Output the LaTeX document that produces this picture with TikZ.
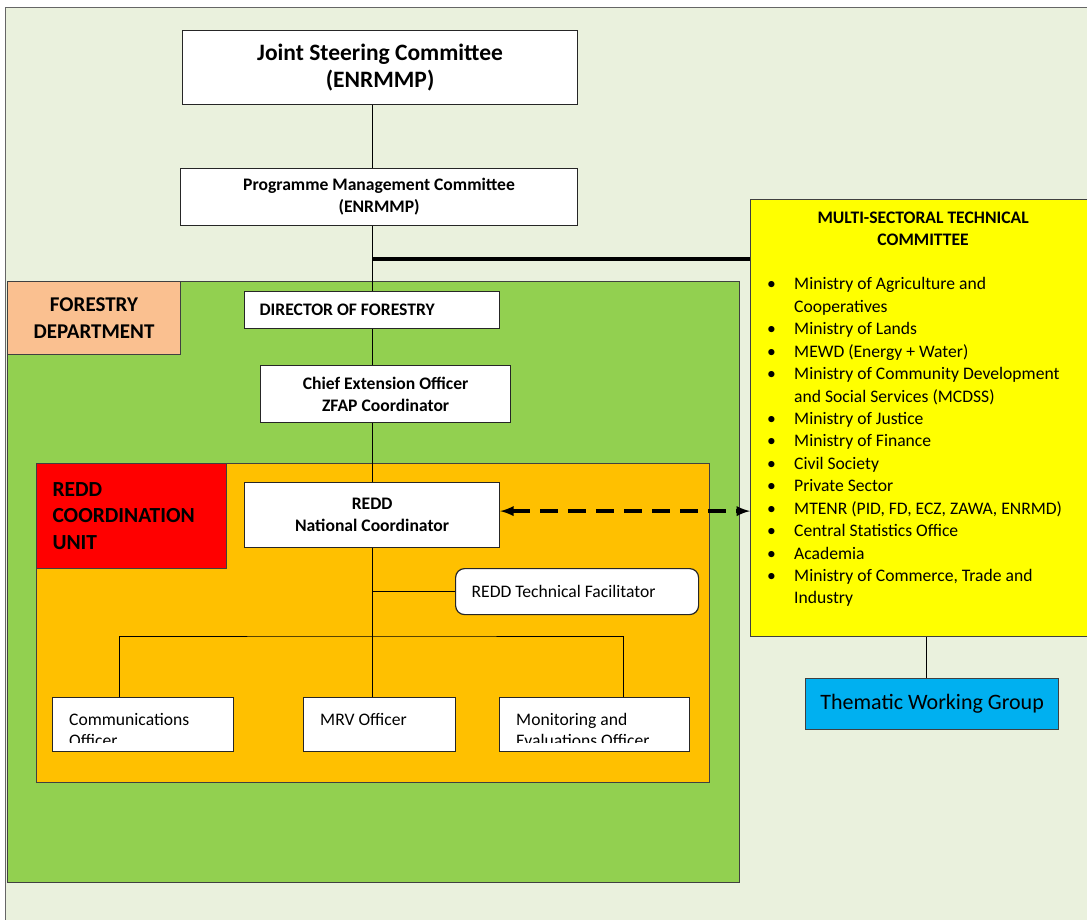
\documentclass[tikz,border=0pt]{standalone}
\usepackage{fontspec}
\setmainfont{Carlito}
\usetikzlibrary{positioning}
\definecolor{bgc}{HTML}{EAF1DD}
\definecolor{fgreen}{HTML}{92D050}
\definecolor{peach}{HTML}{FAC090}
\definecolor{orng}{HTML}{FFC000}
\definecolor{yel}{HTML}{FFFF00}
\definecolor{tblue}{HTML}{00B0F0}
\begin{document}
\begin{tikzpicture}[x=1pt,y=-1pt,>=latex,
  box/.style={draw=black!85,line width=1.2pt,fill=white,anchor=north west,inner sep=0pt,
    align=center,font=\fontsize{17.6}{22}\selectfont\bfseries},
  area/.style={draw=black!75,line width=1pt,anchor=north west,inner sep=0pt},
  link/.style={line width=1pt},
  cut/.style={path picture={
    \clip (path picture bounding box.north west) rectangle ([yshift=9pt]path picture bounding box.south east);
    \node[anchor=north west,inner sep=0pt,minimum width=0pt,minimum height=0pt,draw=none,fill=none,
      align=flush left,font=\fontsize{17.6}{21}\selectfont]
      at ([xshift=16pt,yshift=-15pt]path picture bounding box.north west) {#1};}}]

\clip (0,0) rectangle (1087,920);
\fill[bgc] (5,7) rectangle (1100,930);
\draw[black!60] (5,930) -- (5,7) -- (1100,7);

% forestry department
\node[area,fill=fgreen,minimum width=732,minimum height=601] (fd) at (7,281) {};
\node[area,fill=peach,minimum width=173,minimum height=73,align=center,
  font=\fontsize{21}{27}\selectfont\bfseries] (fdl) at (7,281) {FORESTRY\\DEPARTMENT};

% redd coordination unit
\node[area,fill=orng,minimum width=673,minimum height=319] (rcu) at (36,463) {};
\node[area,fill=red,minimum width=190,minimum height=105,text width=158,inner xsep=16,align=flush left,
  font=\fontsize{21.5}{26.5}\selectfont\bfseries] (rcul) at (36,463) {REDD\\COORDINATION\\UNIT};

\node[box,minimum width=395,minimum height=74,font=\fontsize{23.5}{27}\selectfont\bfseries] (jsc) at (182,30)
  {Joint Steering Committee\\(ENRMMP)};
\node[box,minimum width=397,minimum height=57] (pmc) at (180,168) {Programme Management Committee\\(ENRMMP)};
\node[box,minimum width=255,minimum height=37,align=flush left,text width=225,inner xsep=15] (dof) at (244,291)
  {DIRECTOR OF FORESTRY};
\node[box,minimum width=250,minimum height=57] (ceo) at (260,365) {Chief Extension Officer\\ZFAP Coordinator};
\node[box,minimum width=255,minimum height=65] (nc) at (244,482) {REDD\\National Coordinator};
\node[box,minimum width=243,minimum height=46,align=flush left,text width=211,inner xsep=16,rounded corners=9pt,
  font=\fontsize{17.6}{21}\selectfont] (rtf) at (455,568) {REDD Technical Facilitator};

\node[box,minimum width=181,minimum height=54,cut={Communications\\Officer}] (comm) at (52,697) {};
\node[box,minimum width=152,minimum height=54,cut={MRV Officer}] (mrv) at (303,697) {};
\node[box,minimum width=190,minimum height=54,cut={Monitoring and\\Evaluations Officer}] (me) at (499,697) {};

% technical committee
\node[area,fill=yel,minimum width=345,minimum height=437,line width=1.2pt] (mstc) at (750,199) {};
\node[anchor=north,inner sep=0pt,align=center,font=\fontsize{17.6}{22}\selectfont\bfseries] (mstct)
  at ([yshift=-13pt]mstc.north) {MULTI-SECTORAL TECHNICAL\\COMMITTEE};
\node[anchor=north west,inner sep=0pt,font=\fontsize{17.6}{22.43}\selectfont] (mstcl)
  at ([xshift=17pt,yshift=-75pt]mstc.north west) {\begin{tabular}{@{}p{27pt}@{}l@{}}
  \textbullet & Ministry of Agriculture and\\
              & Cooperatives\\
  \textbullet & Ministry of Lands\\
  \textbullet & MEWD (Energy + Water)\\
  \textbullet & Ministry of Community Development\\
              & and Social Services (MCDSS)\\
  \textbullet & Ministry of Justice\\
  \textbullet & Ministry of Finance\\
  \textbullet & Civil Society\\
  \textbullet & Private Sector\\
  \textbullet & MTENR (PID, FD, ECZ, ZAWA, ENRMD)\\
  \textbullet & Central Statistics Office\\
  \textbullet & Academia\\
  \textbullet & Ministry of Commerce, Trade and\\
              & Industry
  \end{tabular}};
\node[area,fill=tblue,minimum width=253,minimum height=51,line width=1.2pt,
  font=\fontsize{22}{26}\selectfont] (twg) at (805,678) {Thematic Working Group};

% links
\draw[link] (dof.north |- jsc.south) -- (dof.north |- pmc.north);
\draw[link] (dof.north |- pmc.south) -- (dof.north);
\draw[line width=4pt] (dof.north |- 0,259) -- (mstc.west |- 0,259);
\draw[link] (dof.south) -- (dof.south |- ceo.north);
\draw[link] (dof.south |- ceo.south) -- (nc.north);
\draw[link] (nc.south) -- (nc.south |- mrv.north);
\draw[link] (nc.south |- rtf.west) -- (rtf.west);
\coordinate (bar) at (nc.south |- 0,636);
\draw[link] ([xshift=-23.5pt]comm.north) |- (bar) -| ([xshift=29pt]me.north);
\draw[link] ([xshift=-5.5pt]twg.north) -- ([xshift=-5.5pt]twg.north |- mstc.south);
\draw[<->,line width=3.5pt,dash pattern=on 18pt off 10pt] ([yshift=4pt]nc.east) -- ([yshift=4pt]nc.east -| mstc.west);

\end{tikzpicture}
\end{document}
